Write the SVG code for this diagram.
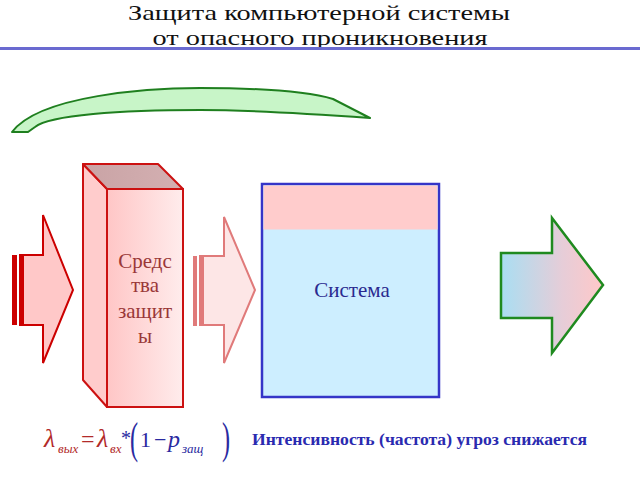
<svg xmlns="http://www.w3.org/2000/svg" width="640" height="480" viewBox="0 0 640 480">
<defs>
<linearGradient id="gFront" x1="0" y1="0" x2="1" y2="0">
<stop offset="0" stop-color="#ffc6c6"/><stop offset="1" stop-color="#ffecec"/>
</linearGradient>
<linearGradient id="gTop" x1="0" y1="0" x2="1" y2="0">
<stop offset="0" stop-color="#c9a3a5"/><stop offset="1" stop-color="#d4b0b2"/>
</linearGradient>
<linearGradient id="gOut" x1="0" y1="0" x2="1" y2="0">
<stop offset="0" stop-color="#a9def2"/><stop offset="0.6" stop-color="#e6cdd8"/><stop offset="1" stop-color="#ffc8c8"/>
</linearGradient>
<style>
text{font-family:"Liberation Serif","Times New Roman",Times,"DejaVu Serif",serif}
.title{font-size:22px;fill:#111;text-anchor:middle}
.lbl{font-size:21px;text-anchor:middle}
.f{font-style:italic}
.red{fill:#b22a2a}
.blu{fill:#2a2aa0}
</style>
</defs>
<rect width="640" height="480" fill="#fff"/>
<g id="title">
<text class="title" x="319" y="20" textLength="382" lengthAdjust="spacingAndGlyphs">Защита компьютерной системы</text>
<text class="title" x="320" y="45" textLength="335" lengthAdjust="spacingAndGlyphs">от опасного проникновения</text>
<rect x="0" y="47" width="640" height="3" fill="#6a6ad0"/>
</g>
<g id="loop-arrow">
<path d="M12,132 C40,95 150,88 200,88 C260,88 310,92 333,99 L370,118 C300,113 250,110 200,110 C120,110 50,115 35,127 L28,132 Z" fill="#c8f5c8" stroke="#1f7f1f" stroke-width="2" stroke-linejoin="round"/>
</g>
<g id="connectors">
<g id="in-arrow">
<rect x="12" y="255" width="5" height="70" fill="#cc0000"/>
<path d="M23,255 L43,255 L43,215 L73,290 L43,363 L43,325 L23,325 Z" fill="#ffc8c8" stroke="#cc0000" stroke-width="2"/>
<rect x="19" y="254" width="4" height="72" fill="#cc0000"/>
</g>
<g id="mid-arrow">
<rect x="193" y="256" width="4" height="70" fill="#e07a7a"/>
<path d="M203,256 L224,256 L224,217 L255,290 L224,363 L224,325 L203,325 Z" fill="#fde6e6" stroke="#e07a7a" stroke-width="2"/>
<rect x="199" y="255" width="4" height="71" fill="#e07a7a"/>
</g>
<g id="out-arrow">
<path d="M501,253 L552,253 L552,218 L603,285 L552,353 L552,318 L501,318 Z" fill="url(#gOut)" stroke="#1f8a1f" stroke-width="2.5"/>
</g>
</g>
<g id="protection">
<path d="M83,164 L107,189 L107,407 L83,380 Z" fill="#ffcccc" stroke="#cc1111" stroke-width="2" stroke-linejoin="round"/>
<path d="M83,164 L158,164 L183,189 L107,189 Z" fill="url(#gTop)" stroke="#cc1111" stroke-width="2" stroke-linejoin="round"/>
<rect x="107" y="189" width="76" height="218" fill="url(#gFront)" stroke="#cc1111" stroke-width="2"/>
<text class="lbl" fill="#9a3838" x="145" y="268">Средс</text>
<text class="lbl" fill="#9a3838" x="145" y="292">тва</text>
<text class="lbl" fill="#9a3838" x="145" y="318">защит</text>
<text class="lbl" fill="#9a3838" x="145" y="343">ы</text>
</g>
<g id="system">
<rect x="262" y="184" width="177" height="213" fill="#cdeeff" stroke="#3535c8" stroke-width="2.5"/>
<rect x="263.5" y="185.5" width="174" height="44" fill="#ffcccc"/>
<text class="lbl" fill="#2a2a90" x="352" y="297">Система</text>
</g>
<g id="formula">
<text class="f red" x="44" y="447" font-size="26">λ</text>
<text class="f red" x="58" y="453" font-size="13">вых</text>
<text class="red" x="81" y="447" font-size="24">=</text>
<text class="f red" x="97" y="447" font-size="26">λ</text>
<text class="f red" x="110" y="453" font-size="13">вх</text>
<text class="blu" x="121" y="445" font-size="20">*</text>
<text class="blu" x="130" y="453" font-size="44" transform="translate(130 453) scale(0.55 1) translate(-130 -453)">(</text>
<text class="blu" x="140" y="447" font-size="22">1</text>
<text class="blu" x="154" y="447" font-size="22">−</text>
<text class="f blu" x="168" y="447" font-size="24">p</text>
<text class="f blu" x="182" y="453" font-size="13">защ</text>
<text class="blu" x="222" y="453" font-size="44" transform="translate(222 453) scale(0.55 1) translate(-222 -453)">)</text>
</g>
<g id="caption">
<text x="252" y="445" font-weight="bold" font-size="16" fill="#2a2ab0" textLength="335" lengthAdjust="spacingAndGlyphs">Интенсивность (частота) угроз снижается</text>
</g>
</svg>
